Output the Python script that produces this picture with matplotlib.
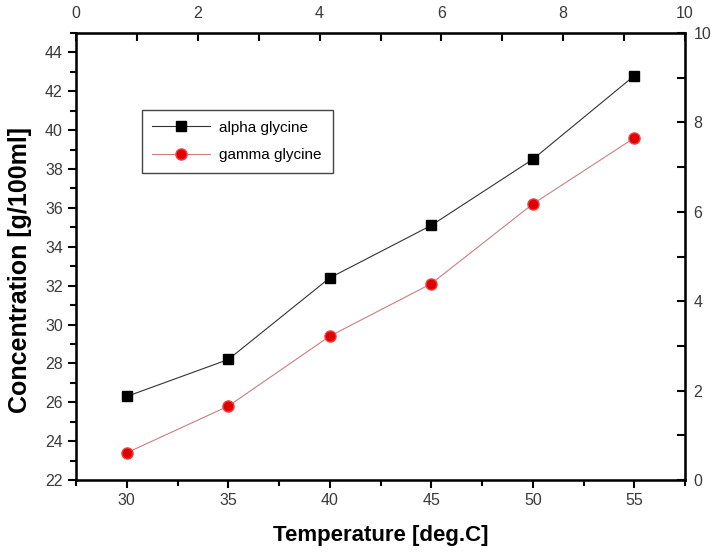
import numpy as np
import matplotlib.pyplot as plt
from matplotlib.ticker import MultipleLocator

plt.rcParams['font.family'] = ['Liberation Sans', 'DejaVu Sans']

temperature = [30, 35, 40, 45, 50, 55]
alpha_glycine = [26.3, 28.2, 32.4, 35.1, 38.5, 42.8]
gamma_glycine = [23.4, 25.8, 29.4, 32.1, 36.2, 39.6]

fig = plt.figure(figsize=(7.2, 5.54), dpi=100)
ax = fig.add_axes([0.1056, 0.1336, 0.8458, 0.8068])

ax.plot(temperature, alpha_glycine, color='#333333', lw=0.8, marker='s',
        markersize=7, markerfacecolor='black', markeredgecolor='black',
        label='alpha glycine')
ax.plot(temperature, gamma_glycine, color='#c88080', lw=0.8, marker='o',
        markersize=8, markerfacecolor='#e00000', markeredgecolor='#f04040',
        label='gamma glycine')

ax.set_xlim(27.5, 57.5)
ax.set_ylim(22, 45)
ax.xaxis.set_major_locator(MultipleLocator(5))
ax.xaxis.set_minor_locator(MultipleLocator(2.5))
ax.yaxis.set_major_locator(MultipleLocator(2))
ax.yaxis.set_minor_locator(MultipleLocator(1))
ax.tick_params(which='both', direction='out', width=1.5, labelsize=11.5,
               labelcolor='#3a3a3a')
ax.tick_params(which='major', length=6)
ax.tick_params(which='minor', length=4)
for s in ax.spines.values():
    s.set_linewidth(1.8)

ax.set_xlabel('Temperature [deg.C]', fontsize=16, fontweight='bold', labelpad=12)
ax.set_ylabel('Concentration [g/100ml]', fontsize=18, fontweight='bold')
ax.yaxis.set_label_coords(-0.072, 0.47)

# right and top axes 0-10
axr = ax.twinx()
axr.set_ylim(0, 10)
axr.yaxis.set_major_locator(MultipleLocator(2))
axr.yaxis.set_minor_locator(MultipleLocator(1))
axr.tick_params(which='both', direction='in', width=1.5, labelsize=11.5,
                labelcolor='#3a3a3a', pad=6)
axr.tick_params(which='major', length=6)
axr.tick_params(which='minor', length=6)

axt = ax.twiny()
axt.set_xlim(0, 10)
axt.xaxis.set_major_locator(MultipleLocator(2))
axt.xaxis.set_minor_locator(MultipleLocator(1))
axt.tick_params(which='both', direction='in', width=1.5, labelsize=11.5,
                labelcolor='#3a3a3a', pad=9)
axt.tick_params(which='major', length=6)
axt.tick_params(which='minor', length=6)

leg = ax.legend(loc='upper left', bbox_to_anchor=(0.095, 0.845), fontsize=11,
                fancybox=False, edgecolor='#444444', framealpha=1,
                handlelength=3.8, handletextpad=0.6, borderpad=0.7,
                labelspacing=0.9)
leg.get_frame().set_linewidth(1.0)

fig.savefig('out.png', dpi=100)
